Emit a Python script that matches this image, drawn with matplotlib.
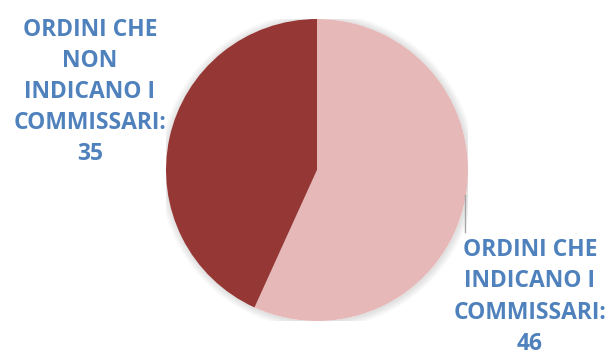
import matplotlib.pyplot as plt
from matplotlib.patches import Circle

# dati del grafico
categorie = ['ORDINI CHE\nINDICANO I\nCOMMISSARI:', 'ORDINI CHE\nNON\nINDICANO I\nCOMMISSARI:']
valori = [46, 35]
colori = ['#E6B8B7', '#953735']

W, H = 611, 354
fig = plt.figure(figsize=(W / 100, H / 100), dpi=100)

# asse per la torta: centro (317,170) raggio 151 px
cx, cy, r = 317, 170, 151
ax = fig.add_axes([(cx - r) / W, (H - cy - r) / H, 2 * r / W, 2 * r / H])
ax.axis('off')

# ombra leggera
for k in range(6):
    ax.add_patch(Circle((0.004, -0.004), 1 + 0.008 * (k + 1), color='black',
                        alpha=0.018, lw=0, zorder=0))
ax.add_patch(Circle((0, 0), 1.0, color='white', lw=0, zorder=0.5))

ax.pie(valori, colors=colori, startangle=90, counterclock=False, radius=1,
       wedgeprops=dict(linewidth=0))
ax.set_xlim(-1, 1)
ax.set_ylim(-1, 1)
ax.set_aspect('auto')

blu = '#4F81BD'
font = dict(family='Open Sans', weight='bold', size=16.5, color=blu,
            ha='center', va='center', linespacing=1.40)

fig.text(90 / W, 1 - 92 / H, categorie[1] + '\n' + str(valori[1]), **font)
fig.text(530 / W, 1 - 297 / H, categorie[0] + '\n' + str(valori[0]), **font)

# linea guida
fig.add_artist(plt.Line2D([465 / W, 465 / W], [1 - 195 / H, 1 - 232 / H],
                          color='#A6A6A6', lw=1))

fig.savefig('out.png', dpi=100)
